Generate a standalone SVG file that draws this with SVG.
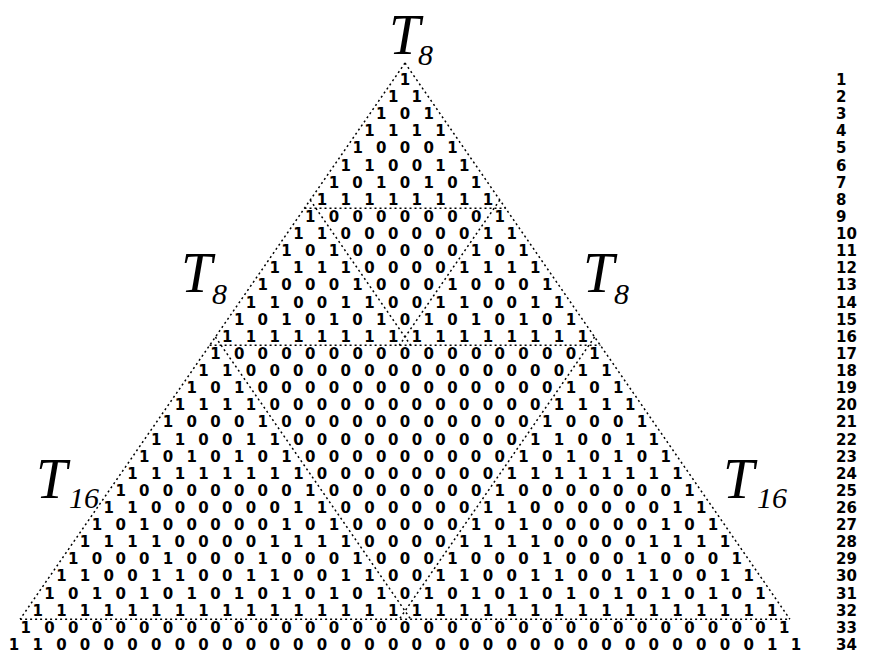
<svg xmlns="http://www.w3.org/2000/svg" width="871" height="665" viewBox="0 0 871 665">
<style>
.d{font-family:"DejaVu Sans",Verdana,sans-serif;font-weight:bold;font-size:15px;fill:#000}
.r{text-anchor:middle;word-spacing:8.04px}
.t{font-family:"Liberation Serif","Times New Roman",serif;font-style:italic;fill:#000}
.big{font-size:56px}
.sub{font-size:30px}
.dot{fill:none;stroke:#000;stroke-width:1.5;stroke-dasharray:2 3}
</style>
<rect width="871" height="665" fill="#fff"/>
<g id="connectors">
<path class="dot" d="M405,63 L20.1,619.2"/>
<path class="dot" d="M405,63 L789.9,619.2"/>
<path class="dot" d="M304.5,208.3 H505.5"/>
<path class="dot" d="M209.6,345.3 H600.4"/>
<path class="dot" d="M20.1,619.2 H789.9"/>
<path class="dot" d="M310.2,200 L410.7,345.3"/>
<path class="dot" d="M499.8,200 L399.3,345.3"/>
<path class="dot" d="M215.4,337 L410.7,619.2"/>
<path class="dot" d="M594.6,337 L399.3,619.2"/>
</g>
<g id="label-T8-top"><text class="t big" x="389" y="54">T</text><text class="t sub" x="418" y="65">8</text></g>
<g id="label-T8-left"><text class="t big" x="181" y="292">T</text><text class="t sub" x="212" y="304">8</text></g>
<g id="label-T8-right"><text class="t big" x="583" y="292">T</text><text class="t sub" x="614" y="304">8</text></g>
<g id="label-T16-left"><text class="t big" x="36" y="498">T</text><text class="t sub" x="69" y="508">16</text></g>
<g id="label-T16-right"><text class="t big" x="723" y="498">T</text><text class="t sub" x="757" y="508">16</text></g>
<g id="triangle-rows" class="d r">
<text x="405" y="85">1</text>
<text x="405" y="102.12">1 1</text>
<text x="405" y="119.24">1 0 1</text>
<text x="405" y="136.36">1 1 1 1</text>
<text x="405" y="153.48">1 0 0 0 1</text>
<text x="405" y="170.6">1 1 0 0 1 1</text>
<text x="405" y="187.72">1 0 1 0 1 0 1</text>
<text x="405" y="204.84">1 1 1 1 1 1 1 1</text>
<text x="405" y="221.96">1 0 0 0 0 0 0 0 1</text>
<text x="405" y="239.08">1 1 0 0 0 0 0 0 1 1</text>
<text x="405" y="256.2">1 0 1 0 0 0 0 0 1 0 1</text>
<text x="405" y="273.32">1 1 1 1 0 0 0 0 1 1 1 1</text>
<text x="405" y="290.44">1 0 0 0 1 0 0 0 1 0 0 0 1</text>
<text x="405" y="307.56">1 1 0 0 1 1 0 0 1 1 0 0 1 1</text>
<text x="405" y="324.68">1 0 1 0 1 0 1 0 1 0 1 0 1 0 1</text>
<text x="405" y="341.8">1 1 1 1 1 1 1 1 1 1 1 1 1 1 1 1</text>
<text x="405" y="358.92">1 0 0 0 0 0 0 0 0 0 0 0 0 0 0 0 1</text>
<text x="405" y="376.04">1 1 0 0 0 0 0 0 0 0 0 0 0 0 0 0 1 1</text>
<text x="405" y="393.16">1 0 1 0 0 0 0 0 0 0 0 0 0 0 0 0 1 0 1</text>
<text x="405" y="410.28">1 1 1 1 0 0 0 0 0 0 0 0 0 0 0 0 1 1 1 1</text>
<text x="405" y="427.4">1 0 0 0 1 0 0 0 0 0 0 0 0 0 0 0 1 0 0 0 1</text>
<text x="405" y="444.52">1 1 0 0 1 1 0 0 0 0 0 0 0 0 0 0 1 1 0 0 1 1</text>
<text x="405" y="461.64">1 0 1 0 1 0 1 0 0 0 0 0 0 0 0 0 1 0 1 0 1 0 1</text>
<text x="405" y="478.76">1 1 1 1 1 1 1 1 0 0 0 0 0 0 0 0 1 1 1 1 1 1 1 1</text>
<text x="405" y="495.88">1 0 0 0 0 0 0 0 1 0 0 0 0 0 0 0 1 0 0 0 0 0 0 0 1</text>
<text x="405" y="513">1 1 0 0 0 0 0 0 1 1 0 0 0 0 0 0 1 1 0 0 0 0 0 0 1 1</text>
<text x="405" y="530.12">1 0 1 0 0 0 0 0 1 0 1 0 0 0 0 0 1 0 1 0 0 0 0 0 1 0 1</text>
<text x="405" y="547.24">1 1 1 1 0 0 0 0 1 1 1 1 0 0 0 0 1 1 1 1 0 0 0 0 1 1 1 1</text>
<text x="405" y="564.36">1 0 0 0 1 0 0 0 1 0 0 0 1 0 0 0 1 0 0 0 1 0 0 0 1 0 0 0 1</text>
<text x="405" y="581.48">1 1 0 0 1 1 0 0 1 1 0 0 1 1 0 0 1 1 0 0 1 1 0 0 1 1 0 0 1 1</text>
<text x="405" y="598.6">1 0 1 0 1 0 1 0 1 0 1 0 1 0 1 0 1 0 1 0 1 0 1 0 1 0 1 0 1 0 1</text>
<text x="405" y="615.72">1 1 1 1 1 1 1 1 1 1 1 1 1 1 1 1 1 1 1 1 1 1 1 1 1 1 1 1 1 1 1 1</text>
<text x="405" y="632.84">1 0 0 0 0 0 0 0 0 0 0 0 0 0 0 0 0 0 0 0 0 0 0 0 0 0 0 0 0 0 0 0 1</text>
<text x="405" y="649.96">1 1 0 0 0 0 0 0 0 0 0 0 0 0 0 0 0 0 0 0 0 0 0 0 0 0 0 0 0 0 0 0 1 1</text>
</g>
<g id="row-numbers" class="d">
<text x="836" y="85">1</text>
<text x="836" y="102.12">2</text>
<text x="836" y="119.24">3</text>
<text x="836" y="136.36">4</text>
<text x="836" y="153.48">5</text>
<text x="836" y="170.6">6</text>
<text x="836" y="187.72">7</text>
<text x="836" y="204.84">8</text>
<text x="836" y="221.96">9</text>
<text x="836" y="239.08">10</text>
<text x="836" y="256.2">11</text>
<text x="836" y="273.32">12</text>
<text x="836" y="290.44">13</text>
<text x="836" y="307.56">14</text>
<text x="836" y="324.68">15</text>
<text x="836" y="341.8">16</text>
<text x="836" y="358.92">17</text>
<text x="836" y="376.04">18</text>
<text x="836" y="393.16">19</text>
<text x="836" y="410.28">20</text>
<text x="836" y="427.4">21</text>
<text x="836" y="444.52">22</text>
<text x="836" y="461.64">23</text>
<text x="836" y="478.76">24</text>
<text x="836" y="495.88">25</text>
<text x="836" y="513">26</text>
<text x="836" y="530.12">27</text>
<text x="836" y="547.24">28</text>
<text x="836" y="564.36">29</text>
<text x="836" y="581.48">30</text>
<text x="836" y="598.6">31</text>
<text x="836" y="615.72">32</text>
<text x="836" y="632.84">33</text>
<text x="836" y="649.96">34</text>
</g>
</svg>
